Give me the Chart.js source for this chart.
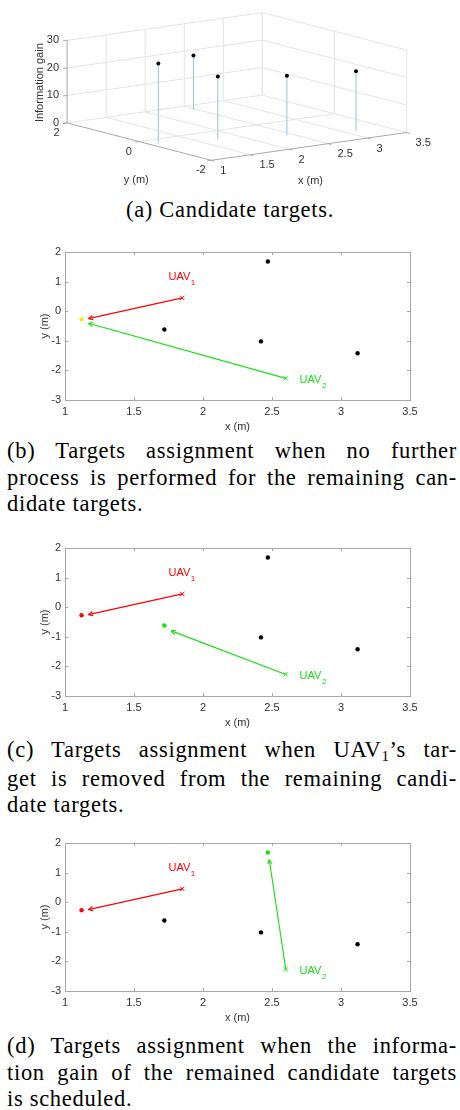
<!DOCTYPE html>
<html>
<head>
<meta charset="utf-8">
<script src="https://cdn.jsdelivr.net/npm/chart.js@4.4.0/dist/chart.umd.min.js"></script>
<style>
  body { margin: 0; background: #fff; width: 460px; height: 1110px; position: relative; overflow: hidden; }
  canvas { position: absolute; left: 0; }
  .cap { position: absolute; left: 7px; width: 450px; font-family: "Liberation Serif", serif; font-size: 22.5px;
         line-height: 26.6px; color: #000; letter-spacing: 0.7px; }
  .j { text-align: justify; text-align-last: justify; }
  .sub { font-size: 15px; position: relative; top: 4px; }
</style>
</head>
<body>
<canvas id="chartA" width="460" height="195" style="top:0px"></canvas>
<div class="cap" style="top:197px; left:0; width:460px; text-align:center;">(a) Candidate targets.</div>

<canvas id="chartB" width="460" height="208" style="top:230px"></canvas>
<div class="cap" style="top:438px;">
  <div class="j">(b) Targets assignment when no further</div>
  <div class="j">process is performed for the remaining can-</div>
  <div>didate targets.</div>
</div>

<canvas id="chartC" width="460" height="208" style="top:526px"></canvas>
<div class="cap" style="top:737px;">
  <div class="j">(c) Targets assignment when UAV<span class="sub">1</span>’s tar-</div>
  <div class="j">get is removed from the remaining candi-</div>
  <div>date targets.</div>
</div>

<canvas id="chartD" width="460" height="208" style="top:821px"></canvas>
<div class="cap" style="top:1033px;">
  <div class="j">(d) Targets assignment when the informa-</div>
  <div class="j">tion gain of the remained candidate targets</div>
  <div>is scheduled.</div>
</div>

<script>
// candidate targets (m) and their information gain
const targetX = [1.12, 1.72, 2.47, 2.42, 3.12];
const targetY = [-0.27, -0.62, 1.68, -1.02, -1.42];
const infoGain = [28.8, 22.9, 19.7, 21.7, 21.8];

// UAV start positions and where their names sit
const uavX = [1.85, 2.60];
const uavY = [0.45, -2.27];
const uavLabelX = [1.75, 2.70];
const uavLabelY = [1.17, -2.33];

// target picked by each UAV and the arrow tips, per panel
const assignB = [0, 0];
const tipXB = [1.17, 1.17];
const tipYB = [-0.25, -0.41];
const assignC = [0, 1];
const tipXC = [1.17, 1.77];
const tipYC = [-0.25, -0.80];
const assignD = [0, 2];
const tipXD = [1.17, 2.48];
const tipYD = [-0.25, 1.44];

// tick labels
const xTicks = [1, 1.5, 2, 2.5, 3, 3.5];
const yTicks2d = [-3, -2, -1, 0, 1, 2];
const yTicks3d = [-2, 0, 2];
const zTicks = [0, 10, 20, 30];

const FONT = '"Liberation Sans", Arial, sans-serif';
const TXT = '#333333';
const GRID = '#e4e4e4';
const AX = '#a8a8a8';
const STEM = '#96c4dc';
const UAV_COLORS = ['#ff0000', '#16e016'];
const BOTH = '#f2f200';

// ---------- (a) 3d stem plot, projected onto a pixel-sized plane ----------
const view = { ox: 211, oy: 163, xu: [79.5, -11.6], yu: [-36.7, -9.75], zu: -2.867 };
const xMin = xTicks[0], xMax = xTicks[xTicks.length - 1];
const yMin = yTicks3d[0], yMax = yTicks3d[yTicks3d.length - 1];
const zMax = zTicks[zTicks.length - 1];

function proj(x, y, z) {
  const dx = x - xMin, dy = y - yMin;
  return {
    x: view.ox + dx * view.xu[0] + dy * view.yu[0],
    y: view.oy + dx * view.xu[1] + dy * view.yu[1] + z * view.zu
  };
}

const seg = (a, b, color, order) => ({
  data: [proj(...a), proj(...b)], showLine: true, borderColor: color,
  borderWidth: 1, pointRadius: 0, order: order
});

const sets3d = [];
xTicks.slice(1).forEach(x => {
  sets3d.push(seg([x, yMax, 0], [x, yMax, zMax], GRID, 4));
  sets3d.push(seg([x, yMin, 0], [x, yMax, 0], GRID, 4));
});
zTicks.slice(1).forEach(z => {
  sets3d.push(seg([xMin, yMax, z], [xMax, yMax, z], GRID, 4));
  sets3d.push(seg([xMax, yMax, z], [xMax, yMin, z], GRID, 4));
});
yTicks3d.forEach(y => {
  if (y > yMin) sets3d.push(seg([xMin, y, 0], [xMax, y, 0], GRID, 4));
  sets3d.push(seg([xMax, y, 0], [xMax, y, zMax], GRID, 4));
});
sets3d.push(seg([xMin, yMax, 0], [xMin, yMax, zMax], AX, 3));
sets3d.push(seg([xMin, yMax, 0], [xMin, yMin, 0], AX, 3));
sets3d.push(seg([xMin, yMin, 0], [xMax, yMin, 0], AX, 3));
targetX.forEach((x, i) => {
  sets3d.push(seg([x, targetY[i], 0], [x, targetY[i], infoGain[i]], STEM, 2));
});
sets3d.push({
  data: targetX.map((x, i) => proj(x, targetY[i], infoGain[i])),
  pointRadius: 2, pointBackgroundColor: '#000', pointBorderWidth: 0, order: 0
});

const axes3dText = {
  id: 'axes3dText',
  afterDraw(chart) {
    const { ctx } = chart;
    const sx = chart.scales.x, sy = chart.scales.y;
    const at = (x, y, z) => {
      const p = proj(x, y, z);
      return [sx.getPixelForValue(p.x), sy.getPixelForValue(p.y)];
    };
    ctx.save();
    ctx.font = '11px ' + FONT;
    ctx.fillStyle = TXT;
    ctx.strokeStyle = AX;
    ctx.lineWidth = 1;
    ctx.textBaseline = 'middle';

    ctx.textAlign = 'right';
    zTicks.forEach(z => {
      const [X, Y] = at(xMin, yMax, z);
      ctx.beginPath(); ctx.moveTo(X, Y); ctx.lineTo(X - 4, Y + 0.5); ctx.stroke();
      ctx.fillText(String(z), X - 8, Y);
    });
    ctx.textAlign = 'center';
    yTicks3d.forEach(y => {
      const [X, Y] = at(xMin, y, 0);
      ctx.beginPath(); ctx.moveTo(X, Y); ctx.lineTo(X - 4, Y + 0.6); ctx.stroke();
      ctx.fillText(String(y), X - 10.5, Y + 10);
    });
    ctx.textAlign = 'left';
    xTicks.forEach(x => {
      const [X, Y] = at(x, yMin, 0);
      ctx.beginPath(); ctx.moveTo(X, Y); ctx.lineTo(X + 3, Y + 1); ctx.stroke();
      ctx.fillText(String(x), X + 9, Y + 10.5);
    });

    ctx.textAlign = 'center';
    let [X, Y] = at(xMin, 0, 0);
    ctx.fillText('y (m)', X - 3, Y + 38.5);
    [X, Y] = at((xMin + xMax) / 2, yMin, 0);
    ctx.fillText('x (m)', X + 1.5, Y + 34.5);
    [X, Y] = at(xMin, yMax, zMax / 2);
    ctx.translate(X - 27.5, Y + 1);
    ctx.rotate(-Math.PI / 2);
    ctx.fillText('Information gain', 0, 0);
    ctx.restore();
  }
};

new Chart(document.getElementById('chartA'), {
  type: 'scatter',
  data: { datasets: sets3d },
  options: {
    responsive: false, animation: false, events: [],
    layout: { padding: 0 },
    plugins: { legend: { display: false }, tooltip: { enabled: false } },
    scales: {
      x: { type: 'linear', min: 0, max: 460, display: false },
      y: { type: 'linear', min: 0, max: 195, reverse: true, display: false }
    }
  },
  plugins: [axes3dText]
});

// ---------- (b)-(d) assignment panels ----------
const panelDecor = {
  id: 'panelDecor',
  afterDatasetsDraw(chart) {
    const { ctx, chartArea: a } = chart;
    const sx = chart.scales.x, sy = chart.scales.y;
    ctx.save();
    // box with inward ticks
    ctx.strokeStyle = AX;
    ctx.lineWidth = 1;
    ctx.strokeRect(Math.round(a.left) + 0.5, Math.round(a.top) + 0.5,
                   Math.round(a.right - a.left), Math.round(a.bottom - a.top));
    ctx.beginPath();
    xTicks.forEach(v => {
      const X = Math.round(sx.getPixelForValue(v)) + 0.5;
      ctx.moveTo(X, a.bottom); ctx.lineTo(X, a.bottom - 3);
      ctx.moveTo(X, a.top); ctx.lineTo(X, a.top + 3);
    });
    yTicks2d.forEach(v => {
      const Y = Math.round(sy.getPixelForValue(v)) + 0.5;
      ctx.moveTo(a.left, Y); ctx.lineTo(a.left + 3, Y);
      ctx.moveTo(a.right, Y); ctx.lineTo(a.right - 3, Y);
    });
    ctx.stroke();

    // arrow heads
    chart.data.datasets.forEach((ds, i) => {
      if (!ds.arrow) return;
      const pts = chart.getDatasetMeta(i).data;
      const p0 = pts[0], p1 = pts[1];
      const ang = Math.atan2(p1.y - p0.y, p1.x - p0.x);
      ctx.strokeStyle = ds.borderColor;
      ctx.lineWidth = 1.1;
      ctx.beginPath();
      [0.45, -0.45].forEach(d => {
        ctx.moveTo(p1.x, p1.y);
        ctx.lineTo(p1.x - 5 * Math.cos(ang + d), p1.y - 5 * Math.sin(ang + d));
      });
      ctx.stroke();
    });

    // UAV names with subscript
    ctx.textBaseline = 'middle';
    ctx.textAlign = 'left';
    uavLabelX.forEach((x, u) => {
      const X = sx.getPixelForValue(x), Y = sy.getPixelForValue(uavLabelY[u]);
      ctx.fillStyle = UAV_COLORS[u];
      ctx.font = '11px ' + FONT;
      ctx.fillText('UAV', X, Y);
      const w = ctx.measureText('UAV').width;
      ctx.font = '8px ' + FONT;
      ctx.fillText(String(u + 1), X + w + 0.5, Y + 6);
    });
    ctx.restore();
  }
};

function makePanel(id, assign, tipX, tipY) {
  const colors = targetX.map((_, i) => {
    const who = assign.map((t, u) => (t === i ? u : -1)).filter(u => u >= 0);
    if (who.length > 1) return BOTH;
    if (who.length === 1) return UAV_COLORS[who[0]];
    return '#000';
  });
  const datasets = [{
    data: targetX.map((x, i) => ({ x: x, y: targetY[i] })),
    pointRadius: 2.2, pointBackgroundColor: colors, pointBorderWidth: 0, order: 0
  }];
  uavX.forEach((x, u) => {
    datasets.push({
      data: [{ x: x, y: uavY[u] }, { x: tipX[u], y: tipY[u] }],
      showLine: true, borderColor: UAV_COLORS[u], borderWidth: 1.1,
      pointStyle: 'crossRot', pointRadius: [3, 0], pointBorderColor: UAV_COLORS[u],
      pointBorderWidth: 1, arrow: true, order: 1
    });
  });
  const tickFont = { family: FONT, size: 11 };
  new Chart(document.getElementById(id), {
    type: 'scatter',
    data: { datasets: datasets },
    options: {
      responsive: false, animation: false, events: [],
      layout: { padding: { top: 22, right: 50, left: 34, bottom: 0 } },
      plugins: { legend: { display: false }, tooltip: { enabled: false } },
      scales: {
        x: {
          type: 'linear', min: xTicks[0], max: xTicks[xTicks.length - 1],
          afterBuildTicks: s => { s.ticks = xTicks.map(v => ({ value: v })); },
          ticks: { padding: 5, color: TXT, font: tickFont, maxRotation: 0, autoSkip: false, callback: v => String(v) },
          grid: { display: false, drawTicks: false }, border: { display: false },
          title: { display: true, text: 'x (m)', color: TXT, font: tickFont },
          afterFit: s => { s.height = 38; }
        },
        y: {
          type: 'linear', min: yTicks2d[0], max: yTicks2d[yTicks2d.length - 1],
          afterBuildTicks: s => { s.ticks = yTicks2d.map(v => ({ value: v })); },
          ticks: { padding: 4, color: TXT, font: tickFont, autoSkip: false, callback: v => String(v) },
          grid: { display: false, drawTicks: false }, border: { display: false },
          title: { display: true, text: 'y (m)', color: TXT, font: tickFont },
          afterFit: s => { s.width = 31; }
        }
      }
    },
    plugins: [panelDecor]
  });
}

makePanel('chartB', assignB, tipXB, tipYB);
makePanel('chartC', assignC, tipXC, tipYC);
makePanel('chartD', assignD, tipXD, tipYD);
</script>
</body>
</html>
